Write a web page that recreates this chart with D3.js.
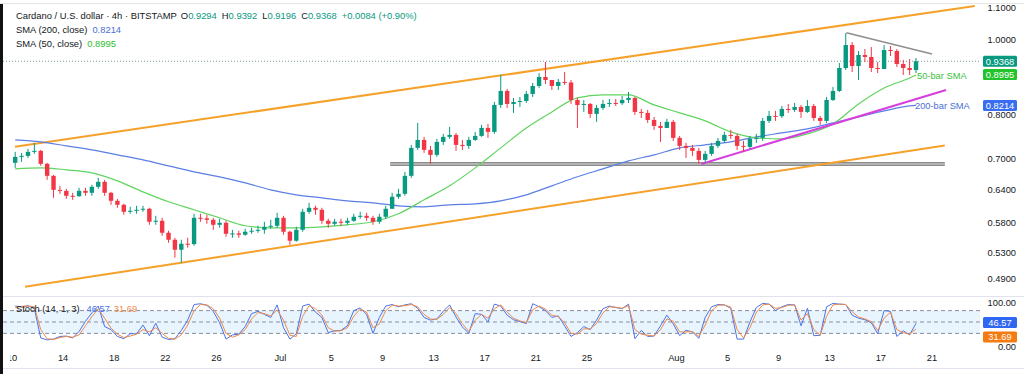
<!DOCTYPE html>
<html>
<head>
<meta charset="utf-8">
<script src="https://cdn.jsdelivr.net/npm/d3@7"></script>
<style>
  body { margin: 0; background: #fff; }
  svg { display: block; font-family: "Liberation Sans", Arial, sans-serif; }
</style>
</head>
<body>
<div id="chart"></div>
<script>
// ADA/USD, 12h candles (Jun 10 - Aug 19, 2025)
const firstOpen = 0.6924;
const closes = [
  0.7048,0.7069,0.7154,0.7175,0.6903,0.6661,0.6389,0.6370,0.6277,0.6270,
  0.6370,0.6333,0.6447,0.6543,0.6333,0.6184,0.6111,0.5985,0.6003,0.6021,
  0.6039,0.5810,0.5827,0.5623,0.5507,0.5346,0.5442,0.5436,0.5879,0.5870,
  0.5844,0.5758,0.5792,0.5606,0.5612,0.5590,0.5640,0.5657,0.5673,0.5724,
  0.5741,0.5879,0.5640,0.5491,0.5673,0.5985,0.6057,0.6021,0.5827,0.5775,
  0.5810,0.5792,0.5827,0.5897,0.5914,0.5879,0.5810,0.5897,0.6039,0.6258,
  0.6314,0.6661,0.7239,0.7413,0.7196,0.7090,0.7369,0.7480,0.7524,0.7304,
  0.7282,0.7413,0.7502,0.7682,0.7592,0.8226,0.8576,0.8250,0.8299,0.8324,
  0.8500,0.8704,0.8940,0.8860,0.8704,0.8808,0.8795,0.8349,0.8226,0.8250,
  0.8009,0.8153,0.8250,0.8275,0.8268,0.8349,0.8399,0.8057,0.8033,0.7867,
  0.7728,0.7682,0.7821,0.7458,0.7282,0.7239,0.7175,0.6985,0.7111,0.7282,
  0.7391,0.7524,0.7502,0.7282,0.7261,0.7436,0.7458,0.7844,0.7961,0.7955,
  0.8129,0.8105,0.8177,0.8057,0.8201,0.7914,0.7844,0.8349,0.8576,0.9182,
  0.9832,0.9236,0.9544,0.9488,0.9182,0.9155,0.9687,0.9658,0.9291,0.9182,
  0.9127,0.9368
];
const highs = [
  0.7154,0.7132,0.7218,0.7348,0.7196,0.6924,0.6681,0.6466,0.6408,0.6333,
  0.6428,0.6428,0.6485,0.6622,0.6582,0.6351,0.6221,0.6129,0.6075,0.6093,
  0.6093,0.6057,0.5914,0.5879,0.5657,0.5540,0.5507,0.5540,0.5950,0.5950,
  0.5932,0.5879,0.5862,0.5827,0.5673,0.5657,0.5690,0.5707,0.5741,0.5810,
  0.5844,0.5967,0.5914,0.5657,0.5724,0.6039,0.6147,0.6093,0.6057,0.5862,
  0.5862,0.5862,0.5879,0.5950,0.5985,0.5967,0.5914,0.5950,0.6093,0.6333,
  0.6408,0.6741,0.7304,0.7797,0.7480,0.7282,0.7436,0.7547,0.7705,0.7569,
  0.7413,0.7480,0.7592,0.7751,0.7774,0.8299,0.8993,0.8627,0.8399,0.8424,
  0.8576,0.8782,0.9046,0.9347,0.8860,0.8887,0.9073,0.8860,0.8399,0.8349,
  0.8275,0.8226,0.8349,0.8374,0.8374,0.8449,0.8550,0.8424,0.8129,0.8105,
  0.7938,0.7821,0.7891,0.7867,0.7502,0.7348,0.7304,0.7239,0.7175,0.7348,
  0.7458,0.7592,0.7637,0.7547,0.7391,0.7502,0.7547,0.7914,0.8081,0.8081,
  0.8201,0.8250,0.8275,0.8226,0.8349,0.8250,0.7961,0.8424,0.8678,0.9319,
  1.0189,0.9920,0.9658,0.9715,0.9774,0.9347,0.9832,0.9803,0.9715,0.9402,
  0.9431,0.9459
];
const lows = [
  0.6821,0.6944,0.7027,0.7111,0.6862,0.6582,0.6239,0.6314,0.6221,0.6202,
  0.6258,0.6277,0.6277,0.6408,0.6277,0.6111,0.6057,0.5932,0.5950,0.5950,
  0.5985,0.5758,0.5758,0.5573,0.5458,0.5221,0.5144,0.5378,0.5410,0.5810,
  0.5775,0.5673,0.5707,0.5557,0.5540,0.5540,0.5573,0.5606,0.5623,0.5606,
  0.5690,0.5707,0.5590,0.5426,0.5475,0.5640,0.5950,0.5932,0.5775,0.5707,
  0.5741,0.5741,0.5758,0.5810,0.5862,0.5827,0.5758,0.5775,0.5862,0.6039,
  0.6221,0.6277,0.6622,0.7196,0.7132,0.6903,0.7048,0.7304,0.7436,0.7175,
  0.7196,0.7218,0.7391,0.7480,0.7458,0.7547,0.8153,0.8153,0.8033,0.8177,
  0.8275,0.8424,0.8653,0.8756,0.8601,0.8601,0.8730,0.8250,0.7682,0.8057,
  0.7914,0.7821,0.8105,0.8177,0.8201,0.8226,0.8275,0.7985,0.7914,0.7797,
  0.7637,0.7369,0.7682,0.7391,0.7196,0.7027,0.7069,0.6903,0.6924,0.7069,
  0.7239,0.7348,0.7436,0.7196,0.7154,0.7218,0.7348,0.7391,0.7797,0.7844,
  0.7914,0.8033,0.8057,0.7914,0.8033,0.7844,0.7751,0.7797,0.8324,0.8550,
  0.9127,0.9073,0.8860,0.9347,0.9073,0.9046,0.9155,0.9516,0.9209,0.8993,
  0.8993,0.9046
];

// moving averages, sampled every 4th bar plus the last one
const sma50 = [
  0.6801,0.6821,0.6781,0.6721,0.6563,0.6351,0.6166,0.6021,0.5879,0.5741,
  0.5707,0.5707,0.5724,0.5758,0.5810,0.5950,0.6202,0.6466,0.6821,0.7239,
  0.7682,0.8057,0.8399,0.8474,0.8474,0.8226,0.8033,0.7844,0.7592,0.7458,
  0.7436,0.7547,0.7774,0.8250,0.8653,0.8913,0.8995
];
const sma200 = [
  0.7413,0.7369,0.7282,0.7196,0.7090,0.6985,0.6862,0.6741,0.6642,0.6524,
  0.6389,0.6295,0.6239,0.6184,0.6147,0.6093,0.6075,0.6111,0.6129,0.6184,
  0.6295,0.6466,0.6642,0.6801,0.6964,0.7090,0.7239,0.7304,0.7369,0.7480,
  0.7569,0.7660,0.7797,0.7938,0.8081,0.8201,0.8214
];

// stochastic (14, 1, 3), one value per 12h bar
const stochK = [
  92,90,93,85,8,3,5,12,13,8,
  25,52,74,92,38,30,12,6,19,19,
  42,14,47,10,4,6,28,55,96,98,
  94,78,48,5,16,18,38,72,78,70,
  62,95,35,5,19,92,97,76,62,22,
  27,28,40,80,87,70,20,62,92,96,
  90,95,98,86,62,55,58,78,95,63,
  37,20,72,70,50,97,92,68,56,51,
  46,98,90,80,62,66,40,12,22,38,
  30,55,85,92,88,85,97,6,28,12,
  13,40,68,45,14,28,24,7,62,90,
  96,95,86,5,5,50,88,99,97,80,
  90,96,95,40,86,14,15,90,99,97,
  96,68,60,56,48,19,80,78,12,27,
  16,46.57
];
const stochD = [
  88,91,92,90,30,6,4,9,12,10,
  16,40,64,85,60,34,18,9,13,18,
  30,24,35,20,7,5,16,42,80,96,
  95,85,60,20,10,16,30,58,75,72,
  66,82,55,15,12,65,93,85,68,35,
  26,27,35,65,84,76,35,45,80,94,
  92,93,96,90,70,58,57,70,88,72,
  45,25,55,70,60,85,95,76,60,53,
  48,82,92,84,68,64,48,20,18,32,
  32,46,74,90,89,86,93,30,18,15,
  13,30,58,52,24,24,25,12,42,80,
  94,95,89,30,8,35,75,95,97,86,
  88,94,95,55,72,30,15,65,95,97,
  96,77,63,58,51,28,60,76,30,22,
  18,31.69
];

// drawn trend lines: [time, price] end points
const upperChannel = [["2025-06-10T05:30Z", 0.7265], ["2025-08-24T08:24Z", 1.1045]];
const lowerChannel = [["2025-06-11T00:30Z", 0.4789], ["2025-08-22T00:00Z", 0.7290]];
const supportLine = [["2025-07-09T14:24Z", 0.6900], ["2025-08-22T00:00Z", 0.6900]];
const risingSupport = [["2025-08-02T22:48Z", 0.6900], ["2025-08-22T02:24Z", 0.8600]];
const topResistance = [["2025-08-14T07:12Z", 1.0198], ["2025-08-21T00:00Z", 0.9570]];

const priceTicks = [1.1, 1.0, 0.9, 0.8, 0.7, 0.64, 0.58, 0.53, 0.49];
const dateTicks = ["2025-06-10","2025-06-14","2025-06-18","2025-06-22","2025-06-26",
  "2025-07-01","2025-07-05","2025-07-09","2025-07-13","2025-07-17","2025-07-21","2025-07-25",
  "2025-08-01","2025-08-05","2025-08-09","2025-08-13","2025-08-17","2025-08-21"];

const W = 1024, H = 374;
const upCol = "#089981", downCol = "#f23645";
const sma50Col = "#5fd45f", sma200Col = "#5b7fe6";
const kCol = "#4a74ea", dCol = "#f08a4b";

const startMs = Date.UTC(2025, 5, 10);
const barMs = 12 * 3600 * 1000;
const barTime = i => new Date(startMs + i * barMs + barMs / 2);
const smaBars = d3.range(0, 141, 4).concat([141]);

var x = d3.scaleUtc()
  .domain([new Date(Date.UTC(2025, 5, 10)), new Date(Date.UTC(2025, 7, 21))])
  .range([12, 932]);
var y = d3.scaleLog().domain([0.49, 1.1]).range([279, 7.3]);
var ys = d3.scaleLinear().domain([0, 100]).range([341, 303]);

var svg = d3.select("#chart").append("svg")
  .attr("width", W).attr("height", H);

var defs = svg.append("defs");
defs.append("clipPath").attr("id", "mainClip")
  .append("rect").attr("x", 3).attr("y", 0).attr("width", 977).attr("height", 296);
defs.append("clipPath").attr("id", "stochClip")
  .append("rect").attr("x", 3).attr("y", 297).attr("width", 977).attr("height", 48);
defs.append("clipPath").attr("id", "axisClip")
  .append("rect").attr("x", 10).attr("y", 346).attr("width", 970).attr("height", 22);

svg.append("rect").attr("width", W).attr("height", H).attr("fill", "#fff");

// ---- main pane ----
var main = svg.append("g").attr("clip-path", "url(#mainClip)");

// current price dotted line
main.append("line")
  .attr("x1", 3).attr("x2", 983)
  .attr("y1", y(closes[closes.length - 1])).attr("y2", y(closes[closes.length - 1]))
  .attr("stroke", "#6f9a96").attr("stroke-width", 1).attr("stroke-dasharray", "1,2");

var seg = pts => pts.map(p => [x(new Date(p[0])), y(p[1])]);
var lineGen = d3.line();

// gray horizontal support (double line)
main.append("path").attr("d", lineGen(seg(supportLine)))
  .attr("stroke", "#8c8c8c").attr("stroke-width", 4).attr("fill", "none");
main.append("path").attr("d", lineGen(seg(supportLine)))
  .attr("stroke", "#d9d9d9").attr("stroke-width", 1.2).attr("fill", "none");

[upperChannel, lowerChannel].forEach(function(l) {
  main.append("path").attr("d", lineGen(seg(l)))
    .attr("stroke", "#f5a12a").attr("stroke-width", 2).attr("fill", "none");
});

// moving averages
var smaLine = d3.line()
  .x((d, k) => x(barTime(smaBars[k])))
  .y(d => y(d))
  .curve(d3.curveMonotoneX);
main.append("path").attr("d", smaLine(sma200))
  .attr("stroke", sma200Col).attr("stroke-width", 1.2).attr("fill", "none");
main.append("path").attr("d", smaLine(sma50))
  .attr("stroke", sma50Col).attr("stroke-width", 1.2).attr("fill", "none");

main.append("path").attr("d", lineGen(seg(risingSupport)))
  .attr("stroke", "#d63fdc").attr("stroke-width", 2).attr("fill", "none");
main.append("path").attr("d", lineGen(seg(topResistance)))
  .attr("stroke", "#8e8e8e").attr("stroke-width", 1.5).attr("fill", "none");

// candles
var candles = closes.map(function(c, i) {
  return { t: barTime(i), o: i === 0 ? firstOpen : closes[i - 1], h: highs[i], l: lows[i], c: c };
});
var bodyW = 4.4;
var cg = main.append("g").selectAll("g").data(candles).enter().append("g");
cg.append("line")
  .attr("x1", d => x(d.t)).attr("x2", d => x(d.t))
  .attr("y1", d => y(d.h)).attr("y2", d => y(d.l))
  .attr("stroke", d => d.c >= d.o ? upCol : downCol).attr("stroke-width", 1);
cg.append("rect")
  .attr("x", d => x(d.t) - bodyW / 2)
  .attr("width", bodyW)
  .attr("y", d => y(Math.max(d.o, d.c)))
  .attr("height", d => Math.max(1, Math.abs(y(d.o) - y(d.c))))
  .attr("fill", d => d.c >= d.o ? upCol : downCol);

// labels for the moving averages
var lastT = barTime(closes.length - 1);
svg.append("text").attr("x", x(lastT) + 1).attr("y", y(sma50[sma50.length - 1]) + 4.5)
  .attr("font-size", 9.3).attr("fill", "#3cbf3c").text("50-bar SMA");
svg.append("text").attr("x", x(lastT) - 1).attr("y", y(sma200[sma200.length - 1]) + 4)
  .attr("font-size", 9.3).attr("fill", "#4a6fd6").text("200-bar SMA");

// ---- stochastic pane ----
var st = svg.append("g").attr("clip-path", "url(#stochClip)");
st.append("rect").attr("x", 3).attr("width", 977)
  .attr("y", ys(80)).attr("height", ys(20) - ys(80))
  .attr("fill", "#2196f3").attr("fill-opacity", 0.1);
[80, 50, 20].forEach(function(v) {
  st.append("line").attr("x1", 3).attr("x2", 980)
    .attr("y1", ys(v)).attr("y2", ys(v))
    .attr("stroke", "#8a8f9c").attr("stroke-width", 1).attr("stroke-dasharray", "4,3");
});
var stochLine = d3.line().x((d, i) => x(barTime(i))).y(d => ys(d));
st.append("path").attr("d", stochLine(stochK))
  .attr("stroke", kCol).attr("stroke-width", 1).attr("fill", "none");
st.append("path").attr("d", stochLine(stochD))
  .attr("stroke", dCol).attr("stroke-width", 1).attr("fill", "none");

var sh = svg.append("text").attr("x", 16).attr("y", 311.5).attr("font-size", 9.3);
sh.append("tspan").attr("fill", "#131722").text("Stoch (14, 1, 3)");
sh.append("tspan").attr("dx", 7).attr("fill", kCol).text(stochK[stochK.length - 1].toFixed(2));
sh.append("tspan").attr("dx", 4).attr("fill", dCol).text(stochD[stochD.length - 1].toFixed(2));

// ---- separators and borders ----
svg.append("line").attr("x1", 3).attr("x2", W).attr("y1", 296.5).attr("y2", 296.5)
  .attr("stroke", "#e0e3eb");
svg.append("line").attr("x1", 3).attr("x2", W).attr("y1", 368.5).attr("y2", 368.5)
  .attr("stroke", "#e0e3eb");
svg.append("line").attr("x1", 0).attr("x2", W).attr("y1", 3.5).attr("y2", 3.5)
  .attr("stroke", "#e6e6e6");

// ---- x axis ----
var fmt = d => d.getUTCDate() === 1 ? d3.utcFormat("%b")(d) : String(d.getUTCDate());
var xa = svg.append("g").attr("clip-path", "url(#axisClip)");
xa.selectAll("text").data(dateTicks.map(s => new Date(s + "T00:00Z"))).enter()
  .append("text")
  .attr("x", d => x(d)).attr("y", 360.5)
  .attr("text-anchor", "middle").attr("font-size", 9.3).attr("fill", "#131722")
  .text(fmt);

// ---- price axis ----
var pa = svg.append("g");
pa.selectAll("text").data(priceTicks).enter().append("text")
  .attr("x", 1016).attr("y", d => y(d) + 3.3)
  .attr("text-anchor", "end").attr("font-size", 9.3).attr("fill", "#131722")
  .text(d => d.toFixed(4));
pa.append("text").attr("x", 1016).attr("y", ys(100) + 2.5)
  .attr("text-anchor", "end").attr("font-size", 9.3).attr("fill", "#131722").text("100.00");
pa.append("text").attr("x", 1016).attr("y", 350)
  .attr("text-anchor", "end").attr("font-size", 9.3).attr("fill", "#131722").text("0.00");

function tag(cy, label, fill) {
  pa.append("rect").attr("x", 983).attr("y", cy - 5.5).attr("width", 34).attr("height", 11)
    .attr("rx", 1.5).attr("fill", fill);
  pa.append("text").attr("x", 1000).attr("y", cy + 3.3).attr("text-anchor", "middle")
    .attr("font-size", 9.3).attr("fill", "#fff").text(label);
}
tag(y(closes[closes.length - 1]), closes[closes.length - 1].toFixed(4), upCol);
tag(y(sma50[sma50.length - 1]) - 0.5, sma50[sma50.length - 1].toFixed(4), "#22c32b");
tag(y(sma200[sma200.length - 1]), sma200[sma200.length - 1].toFixed(4), "#3a6ef0");
tag(322.5, stochK[stochK.length - 1].toFixed(2), "#2f66f2");
tag(337, stochD[stochD.length - 1].toFixed(2), "#f57a10");

// ---- legend ----
var hd = svg.append("g").attr("font-size", 9.4);
var t1 = hd.append("text").attr("x", 16).attr("y", 19);
t1.append("tspan").attr("fill", "#131722").text("Cardano / U.S. dollar · 4h · BITSTAMP");
var ohlc = [["O", 0.9294], ["H", 0.9392], ["L", 0.9196], ["C", 0.9368]];
ohlc.forEach(function(p, k) {
  t1.append("tspan").attr("dx", k === 0 ? 4 : 5).attr("fill", "#131722").text(p[0]);
  t1.append("tspan").attr("fill", upCol).text(p[1].toFixed(4));
});
t1.append("tspan").attr("dx", 5).attr("fill", upCol).text("+0.0084 (+0.90%)");

var t2 = hd.append("text").attr("x", 16).attr("y", 32.7);
t2.append("tspan").attr("fill", "#131722").text("SMA (200, close)");
t2.append("tspan").attr("dx", 5).attr("fill", "#4a6fd6").text(sma200[sma200.length - 1].toFixed(4));
var t3 = hd.append("text").attr("x", 16).attr("y", 46.5);
t3.append("tspan").attr("fill", "#131722").text("SMA (50, close)");
t3.append("tspan").attr("dx", 5).attr("fill", "#2dbd2d").text(sma50[sma50.length - 1].toFixed(4));

// left frame edge
svg.append("rect").attr("x", 0).attr("y", 4).attr("width", 3).attr("height", H - 4).attr("fill", "#111");
</script>
</body>
</html>
